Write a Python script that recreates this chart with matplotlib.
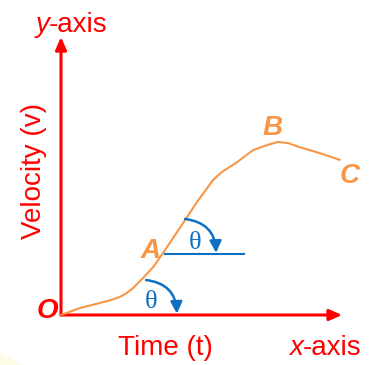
import matplotlib
matplotlib.use("Agg")
import matplotlib.pyplot as plt
from matplotlib.patches import FancyArrowPatch, Polygon

# ---- data (time t, velocity v) in arbitrary units ----
t_curve = [0.0, 0.68, 1.39, 1.80, 2.11, 2.35, 2.57, 2.93, 3.29, 3.64, 4.43, 4.86, 5.43, 5.75,
           6.29, 6.86, 7.36, 7.75, 8.11, 8.50, 9.21, 9.96]
v_curve = [0.0, 0.25, 0.43, 0.54, 0.65, 0.79, 0.96, 1.32, 1.71, 2.21, 3.39, 4.04, 4.82, 5.11,
           5.46, 5.89, 6.07, 6.18, 6.14, 6.00, 5.79, 5.54]

point_labels = ["O", "A", "B", "C"]
point_pos = [(-0.48, -0.11), (3.21, 2.04), (7.57, 6.43), (10.32, 4.71)]

tangent_t = [3.71, 6.54]
tangent_v = [2.18, 2.18]

x_axis_end = 10.04
y_axis_end = 9.93

RED = "#ff0000"
ORANGE = "#f79646"
BLUE = "#0f6fc0"

fig = plt.figure(figsize=(3.72, 3.65), dpi=100)
ax = fig.add_axes([0, 0, 1, 1])
ax.set_xlim(-61 / 28, 311 / 28)
ax.set_ylim(-50 / 28, 315 / 28)
ax.axis("off")

# faint background blob bottom-left
ax.add_patch(Polygon([[0, 0], [0.0, 0.035], [0.06, 0.0]], closed=True,
                     transform=ax.transAxes, facecolor="#fdfbe6", edgecolor="none"))

sans = "Liberation Sans"

# axes arrows
for end in [(x_axis_end, 0), (0, y_axis_end)]:
    ax.add_patch(FancyArrowPatch((0, 0), end, arrowstyle="-|>,head_length=0.75,head_width=0.33",
                                 mutation_scale=10, color=RED, lw=2.2,
                                 shrinkA=0, shrinkB=0, zorder=3))

# curve
ax.plot(t_curve, v_curve, color=ORANGE, lw=1.5, solid_capstyle="round",
        solid_joinstyle="round", zorder=4)

# tangent line at A
ax.plot(tangent_t, tangent_v, color=BLUE, lw=1.5, zorder=4)

# angle arcs
arcs = [((3.04, 1.25), (4.14, 0.05)), ((4.43, 3.43), (5.54, 2.22))]
for s, e in arcs:
    ax.add_patch(FancyArrowPatch(s, e, connectionstyle="arc3,rad=-0.42",
                                 arrowstyle="-|>,head_length=0.7,head_width=0.35",
                                 mutation_scale=10, color=BLUE, lw=1.8,
                                 shrinkA=0, shrinkB=0, zorder=5))

theta_pos = [(3.21, 0.46), (4.79, 2.57)]
for tx, ty in theta_pos:
    ax.text(tx, ty, "θ", color=BLUE, fontsize=19, family="Liberation Serif",
            ha="center", va="center", zorder=6)

# point labels
for lab, (px, py) in zip(point_labels, point_pos):
    col = RED if lab == "O" else ORANGE
    ax.text(px, py, lab, color=col, fontsize=20, family=sans, fontweight="bold",
            fontstyle="italic", ha="center", va="baseline", zorder=6)

# axis texts
ax.text(-0.43, 10.11, "y", color=RED, fontsize=20, family=sans, fontstyle="italic",
        ha="right", va="baseline")
ax.text(-0.43, 10.11, "-axis", color=RED, fontsize=20, family=sans,
        ha="left", va="baseline")
ax.text(8.64, -1.43, "x", color=RED, fontsize=20, family=sans, fontstyle="italic",
        ha="right", va="baseline")
ax.text(8.64, -1.43, "-axis", color=RED, fontsize=20, family=sans,
        ha="left", va="baseline")
ax.text(3.73, -1.43, "Time (t)", color=RED, fontsize=20, family=sans,
        ha="center", va="baseline")
ax.text(-0.71, 5.14, "Velocity (v)", color=RED, fontsize=20, family=sans,
        rotation=90, rotation_mode="anchor", ha="center", va="baseline")

fig.savefig("out.png", dpi=100)
